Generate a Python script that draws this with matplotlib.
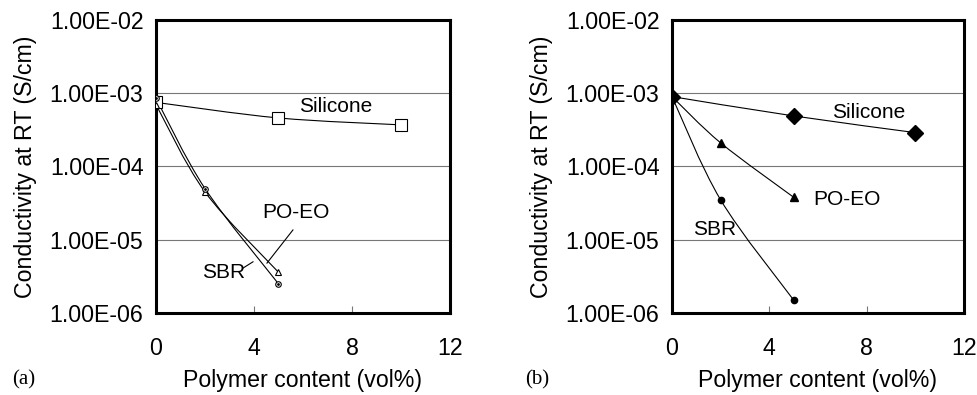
import numpy as np
import matplotlib
matplotlib.use("Agg")
import matplotlib.pyplot as plt
from matplotlib.path import Path
from matplotlib.patches import PathPatch

plt.rcParams['font.family'] = ['Liberation Sans', 'DejaVu Sans']

# (a) data
xa_sil = [0, 5, 10]
ya_sil = [7.5e-4, 4.6e-4, 3.7e-4]
xa_poeo = [0, 2, 5]
ya_poeo = [7.0e-4, 4.5e-5, 3.6e-6]
xa_sbr = [0, 2, 5]
ya_sbr = [8.5e-4, 5.0e-5, 2.5e-6]

# (b) data
xb_sil = [0, 5, 10]
yb_sil = [9.0e-4, 4.9e-4, 2.9e-4]
xb_poeo = [0, 2, 5]
yb_poeo = [9.0e-4, 2.1e-4, 3.8e-5]
xb_sbr = [0, 2, 5]
yb_sbr = [9.0e-4, 3.5e-5, 1.5e-6]

yticks = [1e-6, 1e-5, 1e-4, 1e-3, 1e-2]
ytick_labels = ['1.00E-06', '1.00E-05', '1.00E-04', '1.00E-03', '1.00E-02']
xticks = [0, 4, 8, 12]

FS = 16.7


def smooth_line(ax, x, y, lw=0.8):
    # Excel-like smoothed line: Catmull-Rom -> cubic Bezier in (x, log y)
    p = np.column_stack([np.asarray(x, float), np.log10(y)])
    n = len(p)
    verts = [p[0]]
    codes = [Path.MOVETO]
    for i in range(n - 1):
        p0 = p[i - 1] if i > 0 else p[i]
        p3 = p[i + 2] if i + 2 < n else p[i + 1]
        c1 = p[i] + (p[i + 1] - p0) / 6.0
        c2 = p[i + 1] - (p3 - p[i]) / 6.0
        verts += [c1, c2, p[i + 1]]
        codes += [Path.CURVE4] * 3
    verts = np.array(verts)
    verts[:, 1] = 10 ** verts[:, 1]
    ax.add_patch(PathPatch(Path(verts, codes), fc='none', ec='black', lw=lw, zorder=3))


def style_axes(ax):
    ax.set_yscale('log')
    ax.set_xlim(0, 12)
    ax.set_ylim(1e-6, 1e-2)
    ax.set_yticks(yticks)
    ax.set_yticklabels(ytick_labels)
    ax.minorticks_off()
    ax.set_xticks(xticks)
    ax.tick_params(axis='y', length=0, pad=9, labelsize=FS)
    ax.tick_params(axis='x', direction='in', length=5, width=0.8, color='#777777',
                   pad=17, labelsize=FS)
    for s in ax.spines.values():
        s.set_linewidth(2.2)
    ax.grid(axis='y', color='#777777', lw=0.8)
    ax.set_axisbelow(True)
    ax.set_xlabel('Polymer content (vol%)', fontsize=FS, labelpad=7)
    ax.set_ylabel('Conductivity at RT (S/cm)', fontsize=FS, labelpad=9)


fig = plt.figure(figsize=(9.78, 3.95), dpi=100)
ax1 = fig.add_axes([0.1595, 0.2076, 0.3006, 0.7418])
ax2 = fig.add_axes([0.6871, 0.2076, 0.2986, 0.7418])

# panel (a)
style_axes(ax1)
for x, y in [(xa_sil, ya_sil), (xa_poeo, ya_poeo), (xa_sbr, ya_sbr)]:
    smooth_line(ax1, x, y)
ax1.plot(xa_sil, ya_sil, ls='none', marker='s', ms=8.5, mfc='white', mec='black', mew=0.8, zorder=4)
ax1.plot(xa_poeo, ya_poeo, ls='none', marker='^', ms=5, mfc='white', mec='black', mew=0.8, zorder=4)
ax1.plot(xa_sbr, ya_sbr, ls='none', marker='o', ms=4, mfc='white', mec='black', mew=0.8, zorder=4)
ax1.plot(xa_sbr, ya_sbr, ls='none', marker='.', ms=2, color='black', zorder=5)
ax1.text(7.35, 6.5e-4, 'Silicone', fontsize=15, ha='center', va='center')
ax1.text(5.71, 2.33e-5, 'PO-EO', fontsize=15, ha='center', va='center')
ax1.text(2.78, 3.6e-6, 'SBR', fontsize=15, ha='center', va='center')
ax1.plot([5.59, 4.53], [1.36e-5, 4.8e-6], color='black', lw=0.8)
ax1.plot([3.55, 3.96], [4.1e-6, 5.0e-6], color='black', lw=0.8)

# panel (b)
style_axes(ax2)
for x, y in [(xb_sil, yb_sil), (xb_poeo, yb_poeo), (xb_sbr, yb_sbr)]:
    smooth_line(ax2, x, y)
ax2.plot(xb_sil, yb_sil, ls='none', marker='D', ms=8, color='black', zorder=4)
ax2.plot(xb_poeo, yb_poeo, ls='none', marker='^', ms=6, color='black', zorder=4)
ax2.plot(xb_sbr, yb_sbr, ls='none', marker='o', ms=4.5, color='black', zorder=4)
ax2.text(8.08, 5.4e-4, 'Silicone', fontsize=15, ha='center', va='center')
ax2.text(7.19, 3.5e-5, 'PO-EO', fontsize=15, ha='center', va='center')
ax2.text(1.77, 1.36e-5, 'SBR', fontsize=15, ha='center', va='center')

serif = ['Liberation Serif', 'DejaVu Serif']
fig.text(12 / 978, 1 - 380 / 395, '(a)', fontsize=15, family=serif, va='center')
fig.text(525 / 978, 1 - 380 / 395, '(b)', fontsize=15, family=serif, va='center')

fig.savefig('out.png', dpi=100)
